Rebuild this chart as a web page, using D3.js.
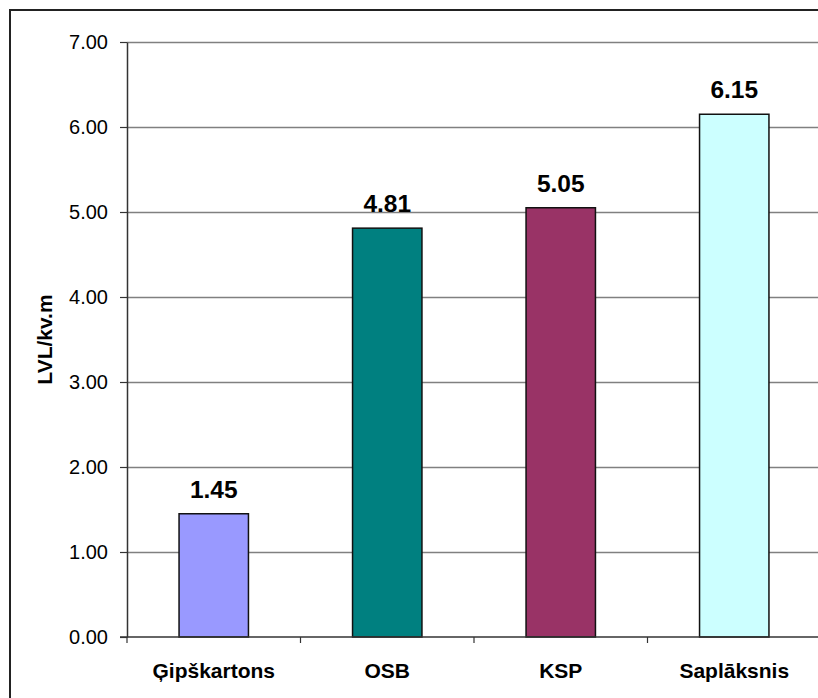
<!DOCTYPE html>
<html>
<head>
<meta charset="utf-8">
<script src="https://cdn.jsdelivr.net/npm/d3@7"></script>
<style>
  body { margin: 0; background: #fff; }
  text { font-family: "Liberation Sans", Arial, sans-serif; }
</style>
</head>
<body>
<div id="container"></div>
<script>
/* DATA */
const categories = ["Ģipškartons", "OSB", "KSP", "Saplāksnis"]
const values = [1.45, 4.81, 5.05, 6.15]
const barColors = ["#9999FF", "#008080", "#993366", "#CCFFFF"]
const yTicks = [0, 1, 2, 3, 4, 5, 6, 7]
const yTitle = "LVL/kv.m"

/* LAYOUT */
const W = 818, H = 698
const margin = {top: 42, left: 127, bottom: 61, right: -3}
const plotW = W - margin.left - margin.right
const plotH = H - margin.top - margin.bottom

const svg = d3.select("#container")
  .append("svg")
    .attr("width", W)
    .attr("height", H)

// outer frame (right and bottom edges fall outside the picture)
svg.append("rect")
  .attr("x", 10).attr("y", 10)
  .attr("width", W + 20).attr("height", H + 20)
  .attr("fill", "none")
  .attr("stroke", "#222")
  .attr("stroke-width", 2)

const g = svg.append("g")
  .attr("transform", `translate(${margin.left},${margin.top})`)

// SCALES
const xScale = d3.scaleBand()
  .domain(categories)
  .range([0, plotW])
  .paddingInner(0.6)
  .paddingOuter(0.3)

const yScale = d3.scaleLinear()
  .domain([0, 7])
  .range([plotH, 0])

// gridlines
g.append("g")
  .selectAll("line")
  .data(yTicks.filter(d => d > 0))
  .join("line")
    .attr("x1", 0).attr("x2", plotW)
    .attr("y1", d => Math.round(yScale(d)) + 0.5)
    .attr("y2", d => Math.round(yScale(d)) + 0.5)
    .attr("stroke", "#808080")
    .attr("stroke-width", 1.5)

// y axis
const yAxis = g.append("g")
  .call(d3.axisLeft(yScale).tickValues(yTicks).tickFormat(d3.format(".2f")).tickSizeOuter(0).tickSizeInner(7).tickPadding(12))
yAxis.select(".domain").attr("stroke", "#333").attr("stroke-width", 1.5)
yAxis.selectAll(".tick line").attr("stroke", "#333").attr("stroke-width", 1.2)
yAxis.selectAll(".tick text")
  .attr("font-size", 20)
  .attr("fill", "#000")
  .style("font-family", "'Liberation Sans', Arial, sans-serif")

// bars
g.selectAll("rect.bar")
  .data(values)
  .join("rect")
    .attr("class", "bar")
    .attr("x", (d, i) => xScale(categories[i]))
    .attr("y", d => yScale(d))
    .attr("width", xScale.bandwidth())
    .attr("height", d => plotH - yScale(d))
    .attr("fill", (d, i) => barColors[i])
    .attr("stroke", "#111")
    .attr("stroke-width", 1.5)

// value labels
g.selectAll("text.val")
  .data(values)
  .join("text")
    .attr("class", "val")
    .attr("x", (d, i) => xScale(categories[i]) + xScale.bandwidth() / 2)
    .attr("y", d => yScale(d) - 16)
    .attr("text-anchor", "middle")
    .attr("font-size", 24.5)
    .attr("font-weight", "bold")
    .text(d => d3.format(".2f")(d))

// x axis
const step = xScale.step()
const xAxisG = g.append("g").attr("transform", `translate(0,${plotH})`)
xAxisG.append("line")
  .attr("x1", -7).attr("x2", plotW)
  .attr("y1", 0).attr("y2", 0)
  .attr("stroke", "#333").attr("stroke-width", 1.5)
xAxisG.selectAll("line.tk")
  .data(d3.range(categories.length + 1))
  .join("line")
    .attr("class", "tk")
    .attr("x1", i => i * step).attr("x2", i => i * step)
    .attr("y1", 0).attr("y2", 6)
    .attr("stroke", "#333").attr("stroke-width", 1.2)
xAxisG.selectAll("text")
  .data(categories)
  .join("text")
    .attr("x", d => xScale(d) + xScale.bandwidth() / 2)
    .attr("y", 41)
    .attr("text-anchor", "middle")
    .attr("font-size", 21)
    .attr("font-weight", "bold")
    .text(d => d)

// y title
svg.append("text")
  .attr("transform", `translate(52,${margin.top + plotH / 2}) rotate(-90)`)
  .attr("text-anchor", "middle")
  .attr("font-size", 21)
  .attr("font-weight", "bold")
  .text(yTitle)
</script>
</body>
</html>
